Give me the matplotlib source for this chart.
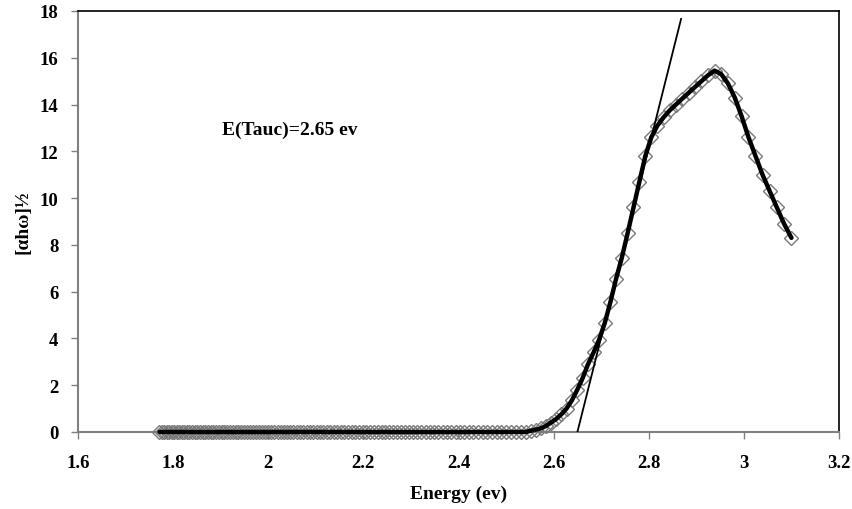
import matplotlib
matplotlib.use("Agg")
import matplotlib.pyplot as plt

# photon energy (eV) of the measured points
energy = [
    1.7714, 1.7765, 1.7816, 1.7867, 1.7919, 1.7971, 1.8023, 1.8076, 1.8129, 1.8182,
    1.8235, 1.8289, 1.8343, 1.8398, 1.8452, 1.8507, 1.8563, 1.8619, 1.8675, 1.8731,
    1.8788, 1.8845, 1.8902, 1.8960, 1.9018, 1.9077, 1.9136, 1.9195, 1.9255, 1.9315,
    1.9375, 1.9436, 1.9497, 1.9558, 1.9620, 1.9683, 1.9745, 1.9808, 1.9872, 1.9936,
    2.0000, 2.0065, 2.0130, 2.0195, 2.0261, 2.0328, 2.0395, 2.0462, 2.0530, 2.0598,
    2.0667, 2.0736, 2.0805, 2.0875, 2.0946, 2.1017, 2.1088, 2.1160, 2.1233, 2.1306,
    2.1379, 2.1453, 2.1528, 2.1603, 2.1678, 2.1754, 2.1831, 2.1908, 2.1986, 2.2064,
    2.2143, 2.2222, 2.2302, 2.2383, 2.2464, 2.2545, 2.2628, 2.2711, 2.2794, 2.2878,
    2.2963, 2.3048, 2.3134, 2.3221, 2.3308, 2.3396, 2.3485, 2.3574, 2.3664, 2.3755,
    2.3846, 2.3938, 2.4031, 2.4125, 2.4219, 2.4314, 2.4409, 2.4506, 2.4603, 2.4701,
    2.4800, 2.4900, 2.5000, 2.5101, 2.5203, 2.5306, 2.5410,
    2.5514, 2.5620, 2.5726, 2.5833, 2.5941, 2.6050, 2.6160, 2.6271, 2.6383, 2.6496,
    2.6609, 2.6724, 2.6840, 2.6957, 2.7074, 2.7193, 2.7313, 2.7434, 2.7556, 2.7679,
    2.7803, 2.7928, 2.8054, 2.8182, 2.8311, 2.8440, 2.8571, 2.8704, 2.8837, 2.8972,
    2.9108, 2.9245, 2.9384, 2.9524, 2.9665, 2.9808, 2.9952, 3.0097, 3.0244, 3.0392,
    3.0542, 3.0693, 3.0846, 3.1000,
]

# [alpha h omega]^1/2
tauc = [0.0] * 107 + [
    0.05, 0.1, 0.15, 0.25, 0.4, 0.55, 0.75, 1.0, 1.35, 1.8,
    2.3, 2.9, 3.4, 3.95, 4.65, 5.55, 6.55, 7.45, 8.5, 9.6,
    10.7, 11.8, 12.6, 13.1, 13.45, 13.75, 14.0, 14.25, 14.5, 14.75,
    15.0, 15.25, 15.45, 15.3, 14.9, 14.3, 13.5, 12.6, 11.8, 11.0,
    10.3, 9.6, 8.9, 8.3,
]

# linear fit used for the band gap
tangent_x = [2.65, 2.868]
tangent_y = [0.0, 17.66]

xticks = [1.6, 1.8, 2.0, 2.2, 2.4, 2.6, 2.8, 3.0, 3.2]
xticklabels = ["1.6", "1.8", "2", "2.2", "2.4", "2.6", "2.8", "3", "3.2"]
yticks = [0, 2, 4, 6, 8, 10, 12, 14, 16, 18]

plt.rcParams['font.family'] = ['Liberation Serif', 'DejaVu Serif']
plt.rcParams['font.weight'] = 'bold'

fig = plt.figure(figsize=(8.53, 5.10), dpi=100)
ax = fig.add_axes([0.0914, 0.151, 0.8922, 0.8255])

for side in ['left', 'bottom']:
    ax.spines[side].set_color('#808080')
    ax.spines[side].set_linewidth(1.5)
for side in ['top', 'right']:
    ax.spines[side].set_color('black')
    ax.spines[side].set_linewidth(1.2)

ax.plot(energy, tauc, linestyle='none', marker='D', markersize=7,
        markerfacecolor='none', markeredgecolor='#7a7a7a', markeredgewidth=1.0,
        clip_on=False, zorder=3)
ax.plot(energy, tauc, color='black', linewidth=3.2, solid_capstyle='round',
        clip_on=False, zorder=4)
ax.plot(tangent_x, tangent_y, color='black', linewidth=1.3, zorder=4)

ax.text(1.903, 12.95, "E(Tauc)=2.65 ev", fontsize=14, fontweight='bold',
        va='center', ha='left')

ax.set_xlim(1.6, 3.2)
ax.set_ylim(0, 18)
ax.set_xticks(xticks)
ax.set_xticklabels(xticklabels)
ax.set_yticks(yticks)
ax.tick_params(axis='both', direction='out', length=5, width=1,
               color='#808080', labelsize=13.5)
ax.tick_params(axis='x', pad=11)
ax.tick_params(axis='y', pad=9)
for lab in ax.get_xticklabels() + ax.get_yticklabels():
    lab.set_fontweight('bold')

ax.set_xlabel("Energy (ev)", fontsize=14, fontweight='bold', labelpad=10)
ax.set_ylabel("[αhω]½", fontsize=14, fontweight='bold', labelpad=6)

fig.savefig("out.png", dpi=100)
